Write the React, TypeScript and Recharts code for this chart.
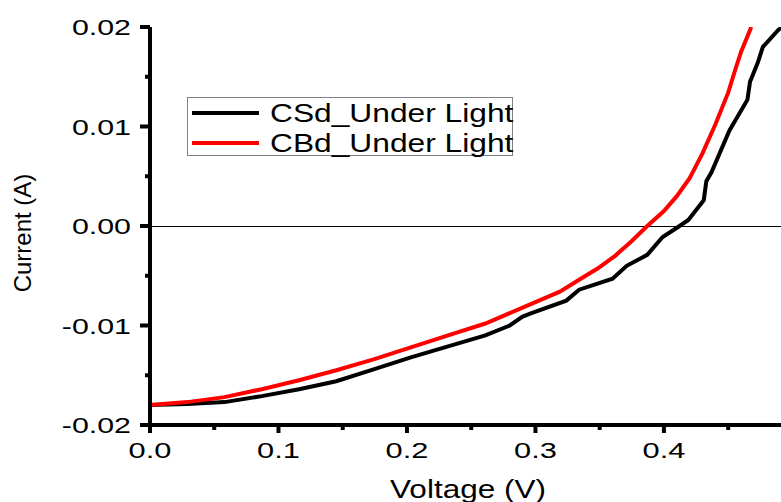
import React from 'react';
import { LineChart, Line, XAxis, YAxis, ReferenceLine, Legend } from 'recharts';

// CSd_Under Light (black)
const csdVoltage = [0, 0.029, 0.058, 0.087, 0.116, 0.145, 0.174, 0.203, 0.232, 0.261, 0.28, 0.29, 0.298, 0.324, 0.334, 0.36, 0.371, 0.387, 0.399, 0.411, 0.419, 0.431, 0.433, 0.437, 0.451, 0.465, 0.467, 0.473, 0.477, 0.489, 0.493];
const csdCurrent = [-0.018, -0.0179, -0.0177, -0.0171, -0.0164, -0.0156, -0.0144, -0.0132, -0.0121, -0.011, -0.01, -0.0091, -0.0087, -0.0075, -0.0064, -0.0053, -0.004, -0.0029, -0.0011, -0.0001, 0.0006, 0.0026, 0.0045, 0.0054, 0.0096, 0.0127, 0.0145, 0.0164, 0.018, 0.0197, 0.0201];

// CBd_Under Light (red)
const cbdVoltage = [0, 0.029, 0.058, 0.087, 0.116, 0.145, 0.174, 0.203, 0.232, 0.261, 0.29, 0.319, 0.334, 0.348, 0.362, 0.375, 0.387, 0.4, 0.41, 0.42, 0.43, 0.44, 0.45, 0.455, 0.46, 0.468];
const cbdCurrent = [-0.018, -0.0177, -0.0172, -0.0164, -0.0155, -0.0145, -0.0134, -0.0122, -0.011, -0.0098, -0.0082, -0.0066, -0.0054, -0.0043, -0.003, -0.0015, 0, 0.0015, 0.003, 0.0048, 0.0073, 0.0102, 0.0134, 0.0155, 0.0175, 0.02];

const seriesNames = ['CSd_Under Light', 'CBd_Under Light'];
const seriesColors = ['#000000', '#ff0000'];

const xMajorTicks = [0, 0.1, 0.2, 0.3, 0.4];
const xMinorTicks = [0.05, 0.15, 0.25, 0.35, 0.45];
const yMajorTicks = [-0.02, -0.01, 0, 0.01, 0.02];
const yMinorTicks = [-0.015, -0.005, 0.005, 0.015];

const xLabel = 'Voltage (V)';
const yLabel = 'Current (A)';

const csdData = csdVoltage.map((v, i) => ({ v, i: csdCurrent[i] }));
const cbdData = cbdVoltage.map((v, i) => ({ v, i: cbdCurrent[i] }));
const xTicks = [...xMajorTicks, ...xMinorTicks].sort((a, b) => a - b);
const yTicks = [...yMajorTicks, ...yMinorTicks].sort((a, b) => a - b);

const FONT = '"Liberation Sans", Arial, sans-serif';
const isMajor = (list: number[], v: number) => list.some((t) => Math.abs(t - v) < 1e-9);

const BottomTick = (props: any) => {
  const { x, y, payload } = props;
  const major = isMajor(xMajorTicks, payload.value);
  return (
    <g>
      <line x1={x} x2={x} y1={y} y2={y + (major ? 8 : 5)} stroke="#000" strokeWidth={4} />
      {major && (
        <g transform={`translate(${x},${y + 33})`}>
          <text transform="scale(1.4,1)" textAnchor="middle" fontSize={22} fontFamily={FONT} fill="#000">
            {payload.value.toFixed(1)}
          </text>
        </g>
      )}
    </g>
  );
};

const TopTick = (props: any) => {
  const { x, y, payload } = props;
  const major = isMajor(xMajorTicks, payload.value);
  return <line x1={x} x2={x} y1={y} y2={y + (major ? 7 : 4)} stroke="#000" strokeWidth={4} />;
};

const LeftTick = (props: any) => {
  const { x, y, payload } = props;
  const major = isMajor(yMajorTicks, payload.value);
  return (
    <g>
      <line x1={x} x2={x - (major ? 10 : 5)} y1={y} y2={y} stroke="#000" strokeWidth={4} />
      {major && (
        <g transform={`translate(${x - 19},${y + 8})`}>
          <text transform="scale(1.38,1)" textAnchor="end" fontSize={22} fontFamily={FONT} fill="#000">
            {payload.value.toFixed(2)}
          </text>
        </g>
      )}
    </g>
  );
};

const RightTick = (props: any) => {
  const { x, y, payload } = props;
  const major = isMajor(yMajorTicks, payload.value);
  return <line x1={x} x2={x - (major ? 8 : 5)} y1={y} y2={y} stroke="#000" strokeWidth={4} />;
};

const XTitle = (props: any) => {
  const vb = props.viewBox || {};
  const cx = vb.x + vb.width / 2;
  return (
    <g transform={`translate(${cx},${498})`}>
      <text transform="scale(1.26,1)" textAnchor="middle" fontSize={25} fontFamily={FONT} fill="#000">
        {xLabel}
      </text>
    </g>
  );
};

const YTitle = () => (
  <text transform={`translate(31,233) rotate(-90)`} textAnchor="middle" fontSize={24} fontFamily={FONT} fill="#000">
    {yLabel}
  </text>
);

const LegendBox = () => (
  <div
    style={{
      width: 324,
      height: 57,
      border: '1px solid #808080',
      background: '#fff',
      position: 'relative',
      boxSizing: 'content-box',
    }}
  >
    {seriesNames.map((name, idx) => (
      <div key={name} style={{ position: 'absolute', left: 0, top: idx * 30, height: 30, width: 324 }}>
        <div style={{ position: 'absolute', left: 4, top: 13, width: 67, height: 4, background: seriesColors[idx] }} />
        <div
          style={{
            position: 'absolute',
            left: 82,
            top: 0,
            height: 30,
            lineHeight: '30px',
            fontSize: 26,
            fontFamily: FONT,
            color: '#000',
            whiteSpace: 'nowrap',
            transform: 'scaleX(1.22)',
            transformOrigin: 'left center',
          }}
        >
          {name}
        </div>
      </div>
    ))}
  </div>
);

export default function App() {
  return (
    <div style={{ position: 'absolute', left: 0, top: 0, width: 781, height: 502, overflow: 'hidden', background: '#fff' }}>
      <LineChart width={786} height={502} margin={{ top: 27, right: 0, bottom: 0, left: 0 }}>
        <XAxis
          xAxisId={0}
          type="number"
          dataKey="v"
          domain={[0, 0.495]}
          allowDataOverflow
          ticks={xTicks}
          interval={0}
          height={77}
          tickSize={0}
          tickMargin={0}
          tickLine={false}
          axisLine={{ stroke: '#000', strokeWidth: 4 }}
          tick={<BottomTick />}
          label={<XTitle />}
        />
        <XAxis
          xAxisId="top"
          orientation="top"
          type="number"
          dataKey="v"
          domain={[0, 0.495]}
          allowDataOverflow
          ticks={xTicks}
          interval={0}
          height={0}
          tickSize={0}
          tickMargin={0}
          tickLine={false}
          axisLine={{ stroke: '#000', strokeWidth: 4 }}
          tick={<TopTick />}
        />
        <YAxis
          yAxisId={0}
          type="number"
          domain={[-0.02, 0.02]}
          allowDataOverflow
          ticks={yTicks}
          interval={0}
          width={150}
          tickSize={0}
          tickMargin={0}
          tickLine={false}
          axisLine={{ stroke: '#000', strokeWidth: 4 }}
          tick={<LeftTick />}
          label={<YTitle />}
        />
        <YAxis
          yAxisId="right"
          orientation="right"
          type="number"
          domain={[-0.02, 0.02]}
          allowDataOverflow
          ticks={yTicks}
          interval={0}
          width={0}
          tickSize={0}
          tickMargin={0}
          tickLine={false}
          axisLine={false}
          tick={<RightTick />}
        />
        <ReferenceLine y={0} xAxisId={0} yAxisId={0} stroke="#000" strokeWidth={1} shapeRendering="crispEdges" />
        <Line
          data={csdData}
          dataKey="i"
          name={seriesNames[0]}
          xAxisId={0}
          yAxisId={0}
          type="linear"
          stroke={seriesColors[0]}
          strokeWidth={4}
          dot={false}
          activeDot={false}
          isAnimationActive={false}
        />
        <Line
          data={cbdData}
          dataKey="i"
          name={seriesNames[1]}
          xAxisId={0}
          yAxisId={0}
          type="linear"
          stroke={seriesColors[1]}
          strokeWidth={4}
          dot={false}
          activeDot={false}
          isAnimationActive={false}
        />
        <Legend
          layout="vertical"
          align="center"
          verticalAlign="middle"
          content={<LegendBox />}
          wrapperStyle={{ left: 187, top: 97, width: 326, height: 59 }}
        />
      </LineChart>
    </div>
  );
}
